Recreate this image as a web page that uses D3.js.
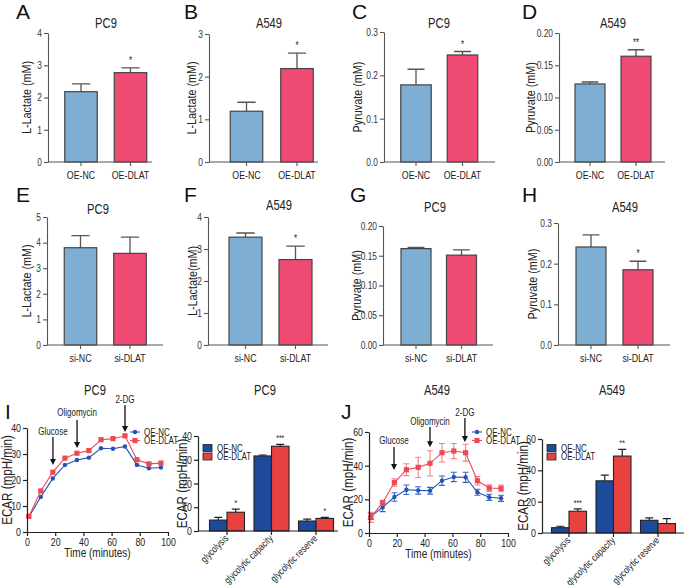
<!DOCTYPE html>
<html><head><meta charset="utf-8">
<script src="https://cdn.jsdelivr.net/npm/d3@7"></script>
<style>body{margin:0;background:#fff}svg{display:block;font-family:"Liberation Sans",Arial,sans-serif}</style>
</head><body><svg id="c" width="685" height="585"></svg>
<script>
// ---------- DATA ----------
const catsOE = ["OE-NC", "OE-DLAT"];
const catsSi = ["si-NC", "si-DLAT"];
const aMean = [2.18, 2.77], aErr = [0.24, 0.15], aStars = ["", "*"];
const bMean = [1.19, 2.19], bErr = [0.21, 0.36], bStars = ["", "*"];
const cMean = [0.178, 0.247], cErr = [0.036, 0.008], cStars = ["", "*"];
const dMean = [0.121, 0.164], dErr = [0.003, 0.010], dStars = ["", "**"];
const eMean = [3.80, 3.58], eErr = [0.47, 0.63], eStars = ["", ""];
const fMean = [3.37, 2.67], fErr = [0.13, 0.42], fStars = ["", "*"];
const gMean = [0.162, 0.151], gErr = [0.002, 0.009], gStars = ["", ""];
const hMean = [0.241, 0.185], hErr = [0.030, 0.021], hStars = ["", "*"];
const ticks4 = [0, 1, 2, 3, 4], ticks3 = [0, 1, 2, 3], ticks5 = [0, 1, 2, 3, 4, 5];
const ticksP3 = [0, 0.1, 0.2, 0.3], ticksP2 = [0, 0.05, 0.10, 0.15, 0.20];

const seriesNames = ["OE-NC", "OE-DLAT"];
const times = [1.3, 9.8, 18.3, 26.9, 35.4, 43.9, 52.5, 61.0, 69.5, 78.0, 86.5, 95.0];
const pc9NC   = [5.8, 13.5, 20.6, 25.8, 27.7, 28.6, 32.2, 32.0, 32.9, 25.8, 24.5, 24.8];
const pc9DLAT = [6.0, 15.8, 23.0, 28.4, 30.3, 31.3, 35.5, 35.9, 37.0, 27.8, 26.2, 26.5];
const a549NC      = [9.9, 15.2, 21.4, 25.7, 25.3, 25.1, 31.1, 33.3, 33.1, 24.2, 21.2, 20.6];
const a549NCErr   = [1.8, 2.5, 2.5, 2.8, 2.2, 2.0, 2.8, 2.8, 3.0, 1.8, 1.8, 1.8];
const a549DLAT    = [9.3, 18.0, 30.0, 37.6, 39.0, 41.4, 47.7, 48.7, 47.7, 31.0, 26.7, 26.5];
const a549DLATErr = [3.0, 1.5, 2.2, 3.5, 6.0, 7.5, 5.5, 4.5, 5.0, 2.5, 2.0, 2.0];
const pc9Events  = [{name:"Glucose", t:18.4, lab:38.5, y0:36.5, y1:25.8},
                    {name:"Oligomycin", t:35.5, lab:45.8, y0:43.1, y1:32.3},
                    {name:"2-DG", t:69.5, lab:50.8, y0:48.8, y1:38.5}];
const a549Events = [{name:"Glucose", t:18.0, lab:54.7, y0:51.1, y1:37.4},
                    {name:"Oligomycin", t:43.9, lab:66.5, y0:63.0, y1:51.0},
                    {name:"2-DG", t:69.0, lab:71.3, y0:68.3, y1:54.0}];

const params = ["glycolysis", "glycolytic capacity", "glycolytic reserve"];
const pc9ParNC   = [4.6, 31.6, 4.2], pc9ParNCErr   = [1.1, 0.4, 0.8];
const pc9ParDLAT = [7.9, 35.7, 5.3], pc9ParDLATErr = [1.3, 0.8, 0.4];
const pc9ParStars = ["*", "***", "*"];
const a549ParNC   = [3.4, 33.3, 8.1], a549ParNCErr   = [0.9, 3.7, 1.5];
const a549ParDLAT = [13.9, 49.1, 6.0], a549ParDLATErr = [1.5, 4.3, 3.2];
const a549ParStars = ["***", "**", ""];

// ---------- DRAW ----------
const svg = d3.select("#c");
const FONT = '"Liberation Sans",Arial,sans-serif';
const SQUEEZE = 0.8;
const lightCols = ["#7eaed3", "#f04b73"];
const darkCols = ["#1c4a9c", "#e8413f"];
const lineCols = ["#2653b3", "#ee4a55"];

function letter(t, x, y) {
  svg.append("text").attr("class", "letter").attr("x", x).attr("y", y).attr("font-size", 21).attr("fill", "#111").text(t);
}
function text(g, t, x, y, size, opts = {}) {
  const el = g.append("text").attr("x", x).attr("y", y).attr("font-size", size)
    .attr("fill", opts.fill || "#222").attr("text-anchor", opts.anchor || "middle").text(t);
  if (opts.rot) el.attr("transform", `rotate(${opts.rot},${x},${y})`);
  return el;
}

function barPanel(cfg, cats, means, errs, stars, ticks, fmt, maxV) {
  const g = svg.append("g");
  const p = 1 - cfg.bw / cfg.step;
  const x0 = cfg.c1 - p * cfg.step - cfg.bw / 2;
  const x = d3.scaleBand().domain(cats).range([x0, x0 + cfg.step * (2 + p)]).paddingInner(p).paddingOuter(p);
  const y = d3.scaleLinear().domain([0, maxV]).range([cfg.yb, cfg.yt]);
  const data = cats.map((c, i) => ({c, m: means[i], e: errs[i], s: stars[i], col: lightCols[i]}));
  g.selectAll(".eb").data(data).join("path")
    .attr("d", d => {
      const cx = x(d.c) + x.bandwidth() / 2, w = x.bandwidth() * 0.28;
      return `M${cx},${y(d.m)}V${y(d.m + d.e)}M${cx - w},${y(d.m + d.e)}H${cx + w}`;
    }).attr("stroke", "#555").attr("stroke-width", 1.3).attr("fill", "none");
  g.selectAll(".bar").data(data).join("rect")
    .attr("x", d => x(d.c)).attr("width", x.bandwidth())
    .attr("y", d => y(d.m)).attr("height", d => y(0) - y(d.m))
    .attr("fill", d => d.col).attr("stroke", "#444").attr("stroke-width", 1.2);
  g.selectAll(".st").data(data.filter(d => d.s)).join("text")
    .attr("x", d => x(d.c) + x.bandwidth() / 2).attr("y", d => y(d.m + d.e) - 4)
    .attr("text-anchor", "middle").attr("font-size", 10).attr("fill", "#222").text(d => d.s);
  const ya = g.append("g").attr("transform", `translate(${cfg.ax},0)`)
    .call(d3.axisLeft(y).tickValues(ticks).tickFormat(fmt).tickSize(4).tickSizeOuter(0).tickPadding(2));
  ya.selectAll("path,line").attr("stroke", "#555").attr("stroke-width", 1.1);
  ya.selectAll("text").attr("font-size", 10.5).attr("fill", "#333").attr("font-family", FONT);
  g.append("line").attr("x1", cfg.ax).attr("x2", cfg.axEnd).attr("y1", cfg.yb).attr("y2", cfg.yb)
    .attr("stroke", "#555").attr("stroke-width", 1.1);
  g.selectAll(".xt").data(cats).join("line")
    .attr("x1", d => x(d) + x.bandwidth() / 2).attr("x2", d => x(d) + x.bandwidth() / 2)
    .attr("y1", cfg.yb).attr("y2", cfg.yb + 4).attr("stroke", "#555").attr("stroke-width", 1.1);
  g.selectAll(".xl").data(cats).join("text")
    .attr("x", d => x(d) + x.bandwidth() / 2).attr("y", cfg.yb + 17)
    .attr("text-anchor", "middle").attr("font-size", 11).attr("fill", "#222").text(d => d);
  text(g, cfg.title, cfg.tx, cfg.ty, 14);
  text(g, cfg.ylab, cfg.lx, (cfg.yt + cfg.yb) / 2, 13.5, {rot: -90, fill: "#222"});
}

const f0 = d3.format("d"), f1 = d3.format(".1f"), f2 = d3.format(".2f");
barPanel({c1: 81, step: 49.5, bw: 32.5, ax: 48, axEnd: 152, yt: 33, yb: 162, title: "PC9", tx: 106, ty: 28, ylab: "L-Lactate (mM)", lx: 31},
  catsOE, aMean, aErr, aStars, ticks4, f0, 4);
barPanel({c1: 246.5, step: 50.5, bw: 32.5, ax: 209, axEnd: 318, yt: 34, yb: 162, title: "A549", tx: 269, ty: 28, ylab: "L-Lactate (mM)", lx: 196},
  catsOE, bMean, bErr, bStars, ticks3, f0, 3);
barPanel({c1: 416, step: 46.5, bw: 30.5, ax: 384, axEnd: 495, yt: 32, yb: 162, title: "PC9", tx: 439, ty: 28, ylab: "Pyruvate (mM)", lx: 362},
  catsOE, cMean, cErr, cStars, ticksP3, f1, 0.3);
barPanel({c1: 590, step: 46, bw: 30, ax: 559, axEnd: 665, yt: 33, yb: 162, title: "A549", tx: 613, ty: 28, ylab: "Pyruvate (mM)", lx: 535},
  catsOE, dMean, dErr, dStars, ticksP2, f2, 0.2);
barPanel({c1: 80.5, step: 49.5, bw: 32.5, ax: 47, axEnd: 163, yt: 217, yb: 345, title: "PC9", tx: 98, ty: 214, ylab: "L-Lactate (mM)", lx: 31},
  catsSi, eMean, eErr, eStars, ticks5, f0, 5);
barPanel({c1: 245.5, step: 50, bw: 33, ax: 208, axEnd: 328, yt: 217, yb: 345, title: "A549", tx: 279, ty: 210, ylab: "L-Lactate(mM)", lx: 197},
  catsSi, fMean, fErr, fStars, ticks4, f0, 4);
barPanel({c1: 416, step: 45.5, bw: 30, ax: 383, axEnd: 493, yt: 226, yb: 345, title: "PC9", tx: 435, ty: 212, ylab: "Pyruvate (mM)", lx: 361},
  catsSi, gMean, gErr, gStars, ticksP2, f2, 0.2);
barPanel({c1: 591, step: 47, bw: 30, ax: 558, axEnd: 670, yt: 223, yb: 345, title: "A549", tx: 625, ty: 212, ylab: "Pyruvate (mM)", lx: 537},
  catsSi, hMean, hErr, hStars, ticksP3, f1, 0.3);

letter("A", 16, 19); letter("B", 184, 19); letter("C", 352, 19); letter("D", 522, 19);
letter("E", 16, 202); letter("F", 184, 202); letter("G", 350, 202); letter("H", 522, 202);
letter("I", 5, 419); letter("J", 341, 419);

function linePanel(cfg, ser, errs, events, ticksY) {
  const g = svg.append("g");
  const x = d3.scaleLinear().domain([0, 100]).range([cfg.x0, cfg.x1]);
  const y = d3.scaleLinear().domain([0, cfg.maxY]).range([cfg.yb, cfg.yt]);
  ser.forEach((vals, si) => {
    const col = lineCols[si];
    const pts = times.map((t, i) => ({t, v: vals[i], e: errs ? errs[si][i] : 0}));
    if (errs) {
      g.selectAll(null).data(pts).join("path")
        .attr("d", d => `M${x(d.t)},${y(d.v - d.e)}V${y(d.v + d.e)}M${x(d.t) - 3},${y(d.v - d.e)}h6M${x(d.t) - 3},${y(d.v + d.e)}h6`)
        .attr("stroke", col).attr("stroke-opacity", si ? 0.7 : 0.9).attr("stroke-width", 1.1).attr("fill", "none");
    }
    g.append("path").datum(pts).attr("d", d3.line().x(d => x(d.t)).y(d => y(d.v)))
      .attr("stroke", col).attr("stroke-width", 1.1).attr("fill", "none");
    if (si === 0) {
      g.selectAll(null).data(pts).join("circle").attr("cx", d => x(d.t)).attr("cy", d => y(d.v)).attr("r", 2.2).attr("fill", col);
    } else {
      g.selectAll(null).data(pts).join("rect").attr("x", d => x(d.t) - 2.6).attr("y", d => y(d.v) - 2.6)
        .attr("width", 5.2).attr("height", 5.2).attr("fill", col);
    }
  });
  events.forEach(ev => {
    const ex = x(ev.t);
    g.append("line").attr("x1", ex).attr("x2", ex).attr("y1", y(ev.y0)).attr("y2", y(ev.y1) - 5)
      .attr("stroke", "#111").attr("stroke-width", 1.3);
    g.append("path").attr("d", `M${ex - 3},${y(ev.y1) - 6}L${ex + 3},${y(ev.y1) - 6}L${ex},${y(ev.y1)}Z`).attr("fill", "#111");
    text(g, ev.name, ex, y(ev.lab) + 3.5, 10, {fill: "#222"});
  });
  const xa = g.append("g").attr("transform", `translate(0,${cfg.yb})`)
    .call(d3.axisBottom(x).tickValues([0, 20, 40, 60, 80, 100]).tickSize(4).tickSizeOuter(0).tickPadding(2));
  const ya = g.append("g").attr("transform", `translate(${cfg.x0},0)`)
    .call(d3.axisLeft(y).tickValues(ticksY).tickSize(4).tickSizeOuter(0).tickPadding(2));
  [xa, ya].forEach(a => {
    a.selectAll("path,line").attr("stroke", "#222").attr("stroke-width", 1.2);
    a.selectAll("text").attr("font-size", 11).attr("fill", "#222").attr("font-family", FONT);
  });
  text(g, "Time (minutes)", (cfg.x0 + cfg.x1) / 2, cfg.yb + 25, 12.5);
  text(g, "ECAR (mpH/min)", cfg.lx, (cfg.yt + cfg.yb) / 2, 14.5, {rot: -90});
  text(g, cfg.title, cfg.tx, 395, 14);
  seriesNames.forEach((n, i) => {
    const ly = cfg.legY + i * 8.5;
    g.append("line").attr("x1", cfg.legX - 5).attr("x2", cfg.legX + 5).attr("y1", ly).attr("y2", ly).attr("stroke", lineCols[i]).attr("stroke-width", 1.1);
    if (i === 0) g.append("circle").attr("cx", cfg.legX).attr("cy", ly).attr("r", 2.2).attr("fill", lineCols[i]);
    else g.append("rect").attr("x", cfg.legX - 2.6).attr("y", ly - 2.6).attr("width", 5.2).attr("height", 5.2).attr("fill", lineCols[i]);
    text(g, n, cfg.legX + 9, ly + 3.5, 10, {anchor: "start"});
  });
}

linePanel({x0: 27, x1: 168, yt: 428, yb: 532, maxY: 40, lx: 12, title: "PC9", tx: 95, legX: 135, legY: 432},
  [pc9NC, pc9DLAT], null, pc9Events, [0, 10, 20, 30, 40]);
linePanel({x0: 369, x1: 508, yt: 432, yb: 533, maxY: 60, lx: 353, title: "A549", tx: 437, legX: 477, legY: 432},
  [a549NC, a549DLAT], [a549NCErr, a549DLATErr], a549Events, [0, 20, 40, 60]);

function groupBarPanel(cfg, means, errs, stars, ticksY) {
  const g = svg.append("g");
  const p = 1 - 2 * cfg.bw / cfg.step;
  const x0 = cfg.c1 - p * cfg.step - cfg.bw;
  const x = d3.scaleBand().domain(params).range([x0, x0 + cfg.step * (3 + p)]).paddingInner(p).paddingOuter(p);
  const xi = d3.scaleBand().domain(seriesNames).range([0, x.bandwidth()]);
  const y = d3.scaleLinear().domain([0, cfg.maxY]).range([cfg.yb, cfg.yt]);
  seriesNames.forEach((s, si) => {
    const d = params.map((c, i) => ({c, m: means[si][i], e: errs[si][i]}));
    g.selectAll(null).data(d).join("path")
      .attr("d", q => {
        const cx = x(q.c) + xi(s) + xi.bandwidth() / 2;
        return `M${cx},${y(q.m)}V${y(q.m + q.e)}M${cx - 4},${y(q.m + q.e)}H${cx + 4}`;
      }).attr("stroke", "#222").attr("stroke-width", 1.2).attr("fill", "none");
    g.selectAll(null).data(d).join("rect")
      .attr("x", q => x(q.c) + xi(s)).attr("width", xi.bandwidth())
      .attr("y", q => y(q.m)).attr("height", q => y(0) - y(q.m))
      .attr("fill", darkCols[si]).attr("stroke", "#222").attr("stroke-width", 1.1);
  });
  params.forEach((c, i) => {
    if (!stars[i]) return;
    const cx = x(c) + xi("OE-DLAT") + xi.bandwidth() / 2;
    text(g, stars[i], cx, y(means[1][i] + errs[1][i]) - 3, 8.5);
  });
  const ya = g.append("g").attr("transform", `translate(${cfg.ax},0)`)
    .call(d3.axisLeft(y).tickValues(ticksY).tickSize(4).tickSizeOuter(0).tickPadding(2));
  ya.selectAll("path,line").attr("stroke", "#222").attr("stroke-width", 1.2);
  ya.selectAll("text").attr("font-size", 11).attr("fill", "#222").attr("font-family", FONT);
  g.append("line").attr("x1", cfg.ax).attr("x2", cfg.axEnd).attr("y1", cfg.yb).attr("y2", cfg.yb).attr("stroke", "#222").attr("stroke-width", 1.2);
  params.forEach(c => {
    const cx = x(c) + x.bandwidth() / 2;
    g.append("line").attr("x1", cx).attr("x2", cx).attr("y1", cfg.yb).attr("y2", cfg.yb + 4).attr("stroke", "#222").attr("stroke-width", 1.2);
    text(g, c, cx + 2, cfg.yb + 8, 10, {anchor: "end", rot: -45});
  });
  text(g, "ECAR (mpH/min)", cfg.lx, (cfg.yt + cfg.yb) / 2, 14.5, {rot: -90});
  text(g, cfg.title, cfg.tx, 395, 14);
  seriesNames.forEach((n, i) => {
    const ly = cfg.legY + i * 8.5;
    g.append("rect").attr("x", cfg.legX).attr("y", ly - 3.5).attr("width", 9).attr("height", 7)
      .attr("fill", darkCols[i]).attr("stroke", "#222").attr("stroke-width", 0.8);
    text(g, n, cfg.legX + 14, ly + 3.5, 10, {anchor: "start"});
  });
}

groupBarPanel({c1: 227, step: 44.5, bw: 17.5, ax: 198, axEnd: 338, yt: 436, yb: 531, maxY: 40, lx: 187, title: "PC9", tx: 265, legX: 203, legY: 448},
  [pc9ParNC, pc9ParDLAT], [pc9ParNCErr, pc9ParDLATErr], pc9ParStars, [0, 10, 20, 30, 40]);
groupBarPanel({c1: 569, step: 44.5, bw: 17.5, ax: 542, axEnd: 684, yt: 439, yb: 533, maxY: 60, lx: 528, title: "A549", tx: 612, legX: 547, legY: 448},
  [a549ParNC, a549ParDLAT], [a549ParNCErr, a549ParDLATErr], a549ParStars, [0, 20, 40, 60]);

// narrow-font look: compress text horizontally
svg.selectAll("text").filter(function () { return !this.classList.contains("letter"); })
  .each(function () {
    const L = this.getComputedTextLength();
    if (L > 0) d3.select(this).attr("textLength", L * SQUEEZE).attr("lengthAdjust", "spacingAndGlyphs");
  });
</script></body></html>
